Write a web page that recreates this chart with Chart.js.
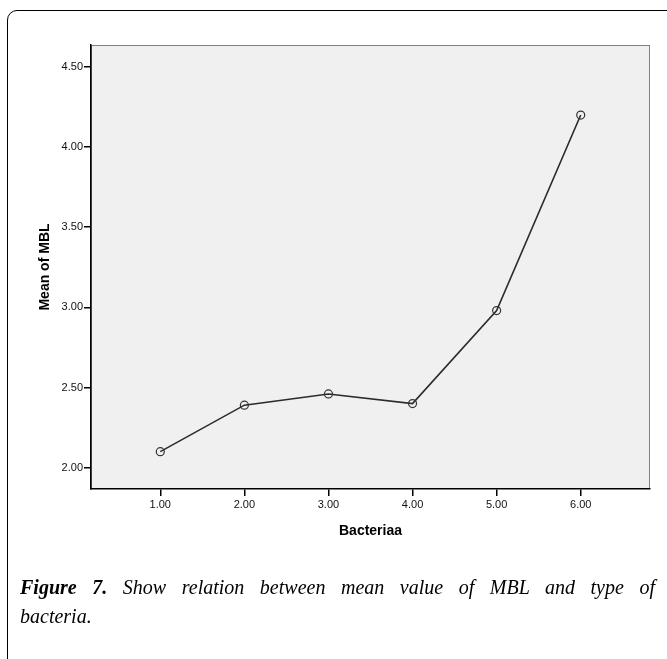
<!DOCTYPE html>
<html>
<head>
<meta charset="utf-8">
<script src="https://cdn.jsdelivr.net/npm/chart.js@4.4.1/dist/chart.umd.min.js"></script>
<style>
  html, body { margin: 0; padding: 0; background: #fff; }
  body { width: 667px; height: 659px; position: relative; overflow: hidden; }
  .frame {
    position: absolute; left: 7px; top: 10px; width: 720px; height: 720px;
    border: 1.5px solid #000; border-radius: 10px; box-sizing: border-box;
  }
  .wrap { position: absolute; left: 0; top: 0; width: 667px; height: 659px; }
  .caption {
    position: absolute; left: 20px; top: 573px; width: 635px;
    font-family: "Liberation Serif", "Times New Roman", serif;
    font-style: italic; font-size: 20px; line-height: 29px; color: #000;
  }
  .caption .l1 { text-align: justify; text-align-last: justify; }
</style>
</head>
<body>
<div class="frame"></div>
<div class="wrap"><canvas id="meanChart" width="667" height="659"></canvas></div>
<div class="caption">
  <div class="l1"><b>Figure 7.</b> Show relation between mean value of MBL and type of</div>
  <div>bacteria.</div>
</div>
<script>
// DATA
const bacteria = [1, 2, 3, 4, 5, 6];
const meanMBL = [2.10, 2.39, 2.46, 2.40, 2.98, 4.20];
const xTicks = [1, 2, 3, 4, 5, 6];
const yTicks = [2.0, 2.5, 3.0, 3.5, 4.0, 4.5];

// plot area background + light frame
const plotBg = {
  id: "plotBg",
  beforeDraw(chart) {
    const { ctx, chartArea: a } = chart;
    ctx.save();
    ctx.fillStyle = "#f0f0f0";
    ctx.fillRect(a.left, a.top, a.right - a.left, a.bottom - a.top);
    ctx.strokeStyle = "#808080";
    ctx.lineWidth = 1;
    ctx.strokeRect(a.left + 0.5, a.top + 0.5, a.right - a.left - 1, a.bottom - a.top - 1);
    ctx.restore();
  },
};

const axisFont = { family: "'Liberation Sans', Arial, sans-serif", size: 11 };
const titleFont = { family: "'Liberation Sans', Arial, sans-serif", size: 14, weight: "bold" };

const ctx = document.getElementById("meanChart").getContext("2d");
new Chart(ctx, {
  type: "line",
  data: {
    datasets: [
      {
        label: "Mean of MBL",
        data: bacteria.map((b, i) => ({ x: b, y: meanMBL[i] })),
        borderColor: "#2b2b2b",
        borderWidth: 1.6,
        tension: 0,
        pointRadius: 4,
        pointBorderWidth: 1.2,
        pointBorderColor: "#333",
        pointBackgroundColor: "rgba(0,0,0,0)",
        clip: false,
      },
    ],
  },
  options: {
    responsive: false,
    animation: false,
    devicePixelRatio: 1,
    layout: { padding: { left: 37, top: 45, right: 17, bottom: 119 } },
    plugins: { legend: { display: false }, tooltip: { enabled: false } },
    scales: {
      x: {
        type: "linear",
        min: 0.176,
        max: 6.824,
        afterBuildTicks: (s) => { s.ticks = xTicks.map((v) => ({ value: v })); },
        afterFit: (s) => { s.height = 51; },
        ticks: {
          autoSkip: false,
          maxRotation: 0,
          padding: 2,
          color: "#111",
          font: axisFont,
          callback: (v) => Number(v).toFixed(2),
        },
        grid: { drawOnChartArea: false, tickLength: 7, color: "#000", lineWidth: 1.5 },
        border: { color: "#000", width: 1.5 },
        title: { display: true, text: "Bacteriaa", color: "#000", font: titleFont, padding: 0 },
      },
      y: {
        min: 1.867,
        max: 4.637,
        afterBuildTicks: (s) => { s.ticks = yTicks.map((v) => ({ value: v })); },
        afterFit: (s) => { s.width = 54; },
        ticks: {
          padding: 1,
          color: "#111",
          font: axisFont,
          callback: (v) => Number(v).toFixed(2),
        },
        grid: { drawOnChartArea: false, tickLength: 7, color: "#000", lineWidth: 1.5 },
        border: { color: "#000", width: 1.5 },
        title: { display: true, text: "Mean of MBL", color: "#000", font: titleFont, padding: 0 },
      },
    },
  },
  plugins: [plotBg],
});
</script>
</body>
</html>
